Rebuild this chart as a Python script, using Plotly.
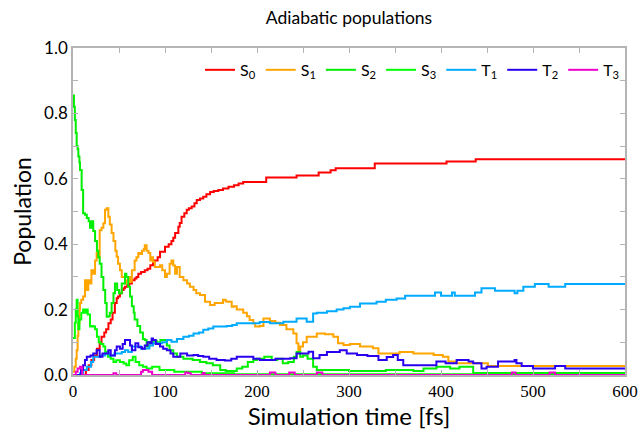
import plotly.graph_objects as go

# ---------------- data ----------------
T_S0 = [0, 10, 14, 17, 20, 23, 26, 29, 31, 34,
        36, 38.5, 41, 43, 45.5, 47.5, 49, 51, 53, 55,
        56.5, 59, 61, 64, 67, 69, 71, 74, 78, 81,
        84, 87, 89, 92, 94.6, 100, 104, 107, 109, 111,
        114.5, 116, 118, 121, 123.6, 126, 129, 132, 134.5, 138,
        141.6, 145, 149, 153, 158, 163, 169, 175, 180, 185,
        210, 243, 267, 280, 285.5, 328, 406, 437.7, 600]
V_S0 = [0, 0, 0.015, 0.03, 0.046, 0.06, 0.08, 0.1, 0.117, 0.13,
        0.14, 0.158, 0.17, 0.19, 0.22, 0.235, 0.24, 0.25, 0.26, 0.265,
        0.27, 0.275, 0.28, 0.29, 0.295, 0.30, 0.31, 0.315, 0.32, 0.325,
        0.336, 0.346, 0.35, 0.36, 0.377, 0.392, 0.40, 0.41, 0.42, 0.434,
        0.453, 0.465, 0.484, 0.495, 0.505, 0.51, 0.515, 0.525, 0.535, 0.54,
        0.545, 0.553, 0.56, 0.563, 0.566, 0.57, 0.576, 0.58, 0.586, 0.59,
        0.604, 0.61, 0.619, 0.626, 0.632, 0.647, 0.653, 0.66, 0.66]

T_S1 = [0, 1.5, 3, 4, 5, 5.8, 7, 7.6, 9, 11,
        13, 14.5, 16.6, 18, 20, 22, 24, 25.7, 27, 29,
        31, 33, 34.8, 36.6, 38.4, 40, 42, 44, 46, 47.5,
        49, 51, 53, 56.5, 58, 60, 62, 64, 67, 69,
        71, 73, 75, 77, 78, 80, 82, 84, 85.5, 87,
        89, 91, 94.6, 97, 100, 102, 105, 107, 109, 111,
        113, 116, 120, 124, 127, 131, 134, 138, 143.5, 149,
        154, 160, 163, 166, 169, 172.5, 175, 178, 181.5, 185,
        189, 192, 196, 198, 203, 207, 214, 220, 225, 232,
        239.5, 243, 245, 247, 250, 254, 265, 274, 283, 288,
        294, 301, 312, 326, 332, 344.6, 355, 370, 392, 402,
        408, 417, 451, 600]
V_S1 = [0.01, 0.025, 0.05, 0.076, 0.12, 0.158, 0.2, 0.22, 0.23, 0.24,
        0.29, 0.26, 0.29, 0.28, 0.32, 0.31, 0.35, 0.373, 0.36, 0.443,
        0.45, 0.464, 0.505, 0.51, 0.484, 0.46, 0.434, 0.41, 0.38, 0.362,
        0.34, 0.32, 0.30, 0.28, 0.29, 0.30, 0.285, 0.32, 0.35, 0.36,
        0.373, 0.37, 0.38, 0.385, 0.397, 0.38, 0.373, 0.35, 0.36, 0.346,
        0.33, 0.33, 0.336, 0.32, 0.30, 0.31, 0.34, 0.35, 0.335, 0.31,
        0.33, 0.30, 0.29, 0.28, 0.27, 0.26, 0.25, 0.245, 0.224, 0.214,
        0.22, 0.22, 0.23, 0.225, 0.224, 0.209, 0.21, 0.2, 0.2, 0.19,
        0.18, 0.168, 0.158, 0.148, 0.15, 0.173, 0.165, 0.16, 0.153, 0.14,
        0.127, 0.097, 0.076, 0.087, 0.1, 0.117, 0.127, 0.125, 0.117, 0.097,
        0.092, 0.095, 0.087, 0.082, 0.066, 0.066, 0.07, 0.066, 0.061, 0.056,
        0.041, 0.036, 0.0275, 0.0275]

T_S2 = [0, 1, 2, 3, 4, 5, 5.8, 7, 7.6, 9.4,
        11, 13, 15, 17, 18.5, 20, 22, 24, 26, 27.5,
        29, 31, 33, 35, 36.6, 38.4, 40, 42, 44, 45.6,
        48, 50, 53, 56.5, 58, 60, 62, 64, 66, 67,
        70, 73, 76, 78, 80, 83, 87, 91, 95, 98,
        102, 105, 109, 113, 120, 130, 138, 145, 152, 160,
        166, 172, 178, 184, 190, 196, 200, 208, 216, 222,
        228, 234, 240, 243, 247, 250, 255, 261, 265, 300,
        340, 370, 381, 395, 410, 420, 435, 600]
V_S2 = [0.855, 0.82, 0.78, 0.74, 0.70, 0.69, 0.668, 0.65, 0.627, 0.566,
        0.495, 0.49, 0.48, 0.47, 0.45, 0.47, 0.44, 0.41, 0.38, 0.36,
        0.34, 0.30, 0.26, 0.22, 0.178, 0.18, 0.19, 0.22, 0.25, 0.28,
        0.26, 0.25, 0.28, 0.31, 0.30, 0.27, 0.24, 0.21, 0.19, 0.17,
        0.15, 0.13, 0.11, 0.107, 0.087, 0.10, 0.105, 0.10, 0.107, 0.107,
        0.09, 0.076, 0.066, 0.056, 0.05, 0.046, 0.04, 0.036, 0.03, 0.015,
        0.012, 0.012, 0.02, 0.025, 0.04, 0.046, 0.05, 0.056, 0.046, 0.05,
        0.036, 0.04, 0.056, 0.07, 0.056, 0.06, 0.05, 0.025, 0.015, 0.012,
        0.015, 0.012, 0.02, 0.025, 0.02, 0.025, 0.006, 0.006]

T_S3 = [0, 2, 3, 4, 5, 5.8, 7, 9, 11, 13,
        14.5, 16, 18.5, 20, 22, 24, 26, 28, 30, 33,
        35, 38, 41, 44, 47, 51, 55, 58, 61, 65,
        68, 72, 76, 80, 86, 94, 110, 140, 175, 600]
V_S3 = [0.113, 0.16, 0.2, 0.23, 0.18, 0.14, 0.17, 0.19, 0.2, 0.19,
        0.2, 0.185, 0.148, 0.15, 0.148, 0.14, 0.117, 0.1, 0.095, 0.087,
        0.07, 0.056, 0.05, 0.04, 0.045, 0.04, 0.035, 0.03, 0.045, 0.056,
        0.04, 0.03, 0.025, 0.02, 0.025, 0.015, 0.01, 0.005, 0.002, 0.002]

T_T1 = [0, 7.6, 11, 15, 19.5, 22, 25.7, 30, 35, 40,
        45, 49, 53, 56.5, 60, 64, 69, 74, 78, 83,
        87, 93, 97, 102, 107, 113, 120, 126, 131, 137,
        141.6, 147, 152.5, 160, 167, 173, 178, 196, 203, 214,
        228.6, 243, 254, 261, 265, 276, 286.6, 294, 301, 312,
        320, 330, 340, 351.8, 361, 393.5, 400, 412, 415, 437,
        444, 458.7, 480, 483, 489.5, 502, 517, 535, 600]
V_T1 = [0, 0.005, 0.015, 0.025, 0.04, 0.056, 0.056, 0.06, 0.066, 0.06,
        0.066, 0.066, 0.07, 0.076, 0.07, 0.087, 0.087, 0.08, 0.081, 0.09,
        0.097, 0.097, 0.1, 0.107, 0.102, 0.11, 0.117, 0.12, 0.127, 0.13,
        0.138, 0.142, 0.148, 0.148, 0.15, 0.153, 0.158, 0.158, 0.162, 0.158,
        0.163, 0.173, 0.163, 0.188, 0.19, 0.195, 0.2, 0.204, 0.209, 0.219,
        0.219, 0.224, 0.23, 0.234, 0.242, 0.252, 0.242, 0.252, 0.242, 0.252,
        0.265, 0.258, 0.25, 0.258, 0.27, 0.278, 0.27, 0.278, 0.278]

T_T2 = [0, 8.7, 11, 13, 15, 16.6, 19, 22, 25.7, 29,
        32, 35, 38.4, 41, 45.6, 47.5, 51, 54, 56.5, 60,
        62, 64, 65.5, 67.8, 71, 75, 78, 81, 84, 85.5,
        87, 90, 94.6, 98, 102, 106, 109, 116.6, 124, 131,
        136, 141.6, 148, 156, 165, 172, 178, 189, 196, 203,
        210.5, 220, 236, 243, 247, 256, 261, 268, 276, 290,
        297.5, 308.7, 320, 332, 341, 348, 353, 359, 380, 395,
        405, 417, 430, 435, 444, 449.6, 462, 480, 482, 487.7,
        500, 524, 535, 600]
V_T2 = [0, 0.015, 0.03, 0.046, 0.056, 0.056, 0.06, 0.066, 0.076, 0.056,
        0.066, 0.066, 0.076, 0.06, 0.076, 0.087, 0.08, 0.095, 0.107, 0.107,
        0.09, 0.076, 0.076, 0.097, 0.085, 0.08, 0.09, 0.1, 0.097, 0.112,
        0.107, 0.095, 0.087, 0.08, 0.076, 0.066, 0.056, 0.066, 0.06, 0.061,
        0.058, 0.056, 0.05, 0.046, 0.044, 0.05, 0.056, 0.056, 0.05, 0.046,
        0.046, 0.05, 0.051, 0.066, 0.066, 0.071, 0.051, 0.061, 0.07, 0.076,
        0.066, 0.061, 0.058, 0.046, 0.055, 0.061, 0.046, 0.03, 0.03, 0.041,
        0.036, 0.046, 0.041, 0.036, 0.02, 0.025, 0.041, 0.046, 0.036, 0.0275,
        0.02, 0.0275, 0.02, 0.02]

T_T3 = [0, 3, 5, 7.6, 10, 44, 47, 74, 76, 82,
        86, 122, 125, 128, 141, 143, 214, 220, 235, 241,
        265, 271, 477, 481, 518, 524, 600]
V_T3 = [0, 0.01, 0.02, 0.025, 0, 0.005, 0, 0.01, 0.015, 0.01,
        0, 0.008, 0.005, 0, 0.006, 0, 0.008, 0, 0.008, 0,
        0.008, 0, 0.008, 0, 0.008, 0, 0]

SERIES_NAMES = ["S<sub>0</sub>", "S<sub>1</sub>", "S<sub>2</sub>", "S<sub>3</sub>",
                "T<sub>1</sub>", "T<sub>2</sub>", "T<sub>3</sub>"]
SERIES_COLORS = ["#ff0000", "#ffa500", "#00ee00", "#00ff00",
                 "#00aaff", "#2a00ee", "#ee00cc"]

X_TICKS = [0, 50, 100, 150, 200, 250, 300, 350, 400, 450, 500, 550, 600]
X_TICK_LABELS = ["0", "", "100", "", "200", "", "300", "", "400", "", "500", "", "600"]
Y_TICKS = [0, 0.1, 0.2, 0.3, 0.4, 0.5, 0.6, 0.7, 0.8, 0.9, 1.0]
Y_TICK_LABELS = ["0.0", "", "0.2", "", "0.4", "", "0.6", "", "0.8", "", "1.0"]

# ---------------- figure ----------------
series = [(T_S0, V_S0), (T_S1, V_S1), (T_S2, V_S2), (T_S3, V_S3),
          (T_T1, V_T1), (T_T2, V_T2), (T_T3, V_T3)]

fig = go.Figure()
for (t, v), name, color in zip(series, SERIES_NAMES, SERIES_COLORS):
    fig.add_trace(go.Scatter(x=t, y=v, name=name, mode="lines",
                             line=dict(color=color, width=2, shape="hv")))

SANS = "Lato"
SERIF = "Liberation Serif"
AXIS_GRAY = "#b4b4b4"

W, H = 638, 432
fig.update_layout(
    width=W, height=H,
    margin=dict(l=73, r=13, t=48, b=57),
    paper_bgcolor="white", plot_bgcolor="white",
    title=dict(text="Adiabatic populations", x=0.5, xref="paper", xanchor="center",
               y=1 - 18 / H, yanchor="middle",
               font=dict(family=SANS, size=17.5, color="black")),
    showlegend=True,
    legend=dict(orientation="h", x=1.0, xanchor="right", y=0.985, yanchor="top",
                bgcolor="rgba(0,0,0,0)", font=dict(family=SANS, size=16, color="black"),
                traceorder="normal", itemwidth=30),
    xaxis=dict(range=[0, 600], tickmode="array", tickvals=X_TICKS, ticktext=X_TICK_LABELS,
               ticks="inside", ticklen=5, tickcolor=AXIS_GRAY, showline=True,
               linecolor=AXIS_GRAY, linewidth=1.5, mirror="ticks", showgrid=False,
               zeroline=False, automargin=False,
               tickfont=dict(family=SERIF, size=17, color="black"),
               title=dict(text="Simulation time [fs]", standoff=4,
                          font=dict(family=SANS, size=24, color="black"))),
    yaxis=dict(range=[0, 1], tickmode="array", tickvals=Y_TICKS, ticktext=Y_TICK_LABELS,
               ticks="inside", ticklen=5, tickcolor=AXIS_GRAY, showline=True,
               linecolor=AXIS_GRAY, linewidth=1.5, mirror="ticks", showgrid=False,
               zeroline=False, automargin=False,
               tickfont=dict(family=SANS, size=17, color="black"),
               title=dict(text="Population", standoff=6,
                          font=dict(family=SANS, size=23, color="black"))),
)

# remove the browser's default 8 px body margin so the figure fills the window exactly
fig.write_html("out.html",
               config={"displayModeBar": False},
               post_script="document.body.style.margin='0';document.body.style.overflow='hidden';")
